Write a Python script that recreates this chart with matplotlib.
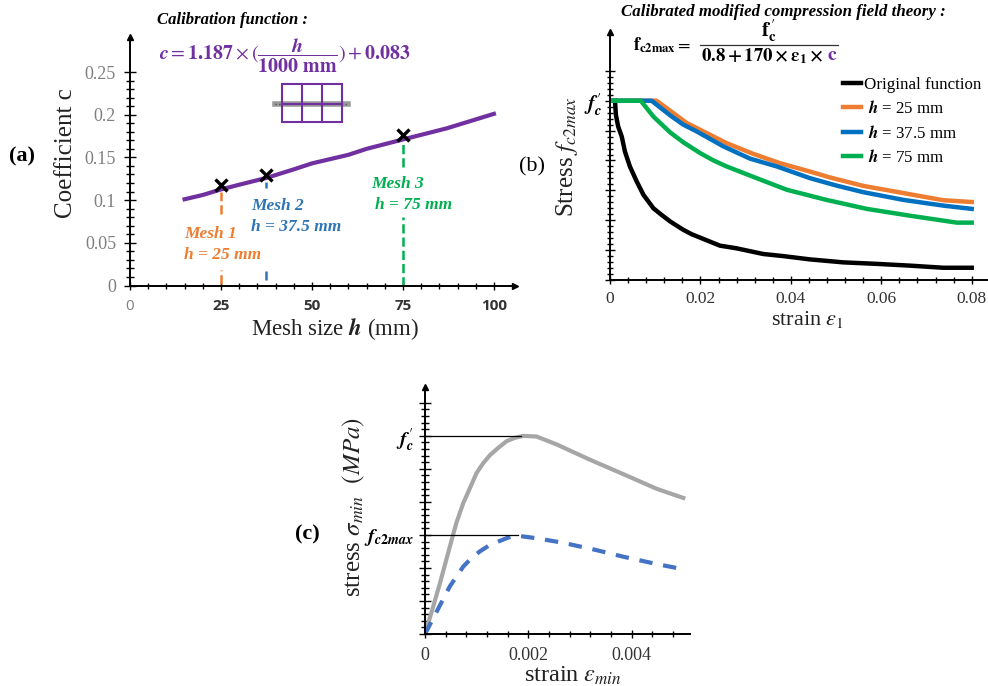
import matplotlib
matplotlib.use('Agg')
import matplotlib.pyplot as plt
from matplotlib.patches import Rectangle
from matplotlib.transforms import ScaledTranslation

plt.rcParams['font.family'] = ['Liberation Serif', 'DejaVu Serif']
plt.rcParams['mathtext.fontset'] = 'stix'

ORANGE = '#ED7D31'
BLUE = '#2E75B6'
GREEN = '#00B050'
PURPLE = '#7030A0'

# (a) calibration
h_line = [15, 20, 25, 30, 37.5, 45, 50, 60, 65, 75, 87, 100]
c_line = [0.101, 0.106, 0.1125, 0.118, 0.126, 0.136, 0.143, 0.153, 0.160, 0.171, 0.184, 0.201]
h_mesh = [25, 37.5, 75]
c_mesh = [0.118, 0.129, 0.176]
mesh_colors = [ORANGE, BLUE, GREEN]
mesh_dash_low = [(0.002, 0.018), (0.006, 0.017), (0.0, 0.08)]
mesh_dash_high = [(0.084, 0.11), (0.114, 0.121), (0.139, 0.168)]

# (b) stress vs strain, y in tick units (f'c = 6)
x_black = [0.0011, 0.0013, 0.0018, 0.0026, 0.0033, 0.0044, 0.0059, 0.0074, 0.0096, 0.0114, 0.0133, 0.0162,
           0.0181, 0.0199, 0.0243, 0.0280, 0.0339, 0.0383, 0.0442, 0.0516, 0.0590, 0.0664, 0.0737, 0.08]
y_black = [6.0, 5.53, 5.14, 4.80, 4.30, 3.80, 3.30, 2.85, 2.40, 2.18, 1.96, 1.68,
           1.53, 1.42, 1.15, 1.06, 0.87, 0.80, 0.69, 0.59, 0.54, 0.48, 0.41, 0.41]
x_orange = [0, 0.0103, 0.0147, 0.017, 0.0199, 0.0258, 0.0317, 0.0376, 0.0442, 0.0487, 0.056, 0.0656, 0.0737, 0.08]
y_orange = [6, 6, 5.51, 5.25, 5.03, 4.58, 4.22, 3.91, 3.63, 3.43, 3.15, 2.89, 2.67, 2.61]
x_blue = [0, 0.0092, 0.0133, 0.0162, 0.0192, 0.0251, 0.031, 0.0369, 0.0442, 0.0501, 0.056, 0.0649, 0.0737, 0.08]
y_blue = [6, 6, 5.51, 5.2, 4.97, 4.47, 4.06, 3.80, 3.41, 3.16, 2.94, 2.68, 2.49, 2.38]
x_green = [0, 0.0068, 0.0096, 0.0133, 0.0162, 0.0199, 0.0229, 0.0258, 0.0324, 0.0391, 0.0479, 0.0568, 0.0664,
           0.0767, 0.08]
y_green = [6, 6, 5.47, 4.94, 4.61, 4.25, 4.0, 3.80, 3.41, 3.02, 2.68, 2.38, 2.15, 1.92, 1.92]

# (c) stress-strain curves
x_gray = [0, 0.00013, 0.00029, 0.00048, 0.00061, 0.00074, 0.00087, 0.00100, 0.00113, 0.00126, 0.00142, 0.00158,
          0.00174, 0.00190, 0.00216, 0.00255, 0.00319, 0.00384, 0.00448, 0.005]
y_gray = [0, 3.4, 7.7, 13.2, 16.9, 19.8, 22.1, 24.4, 25.9, 27.1, 28.2, 29.2,
          29.7, 30, 29.9, 28.7, 26.4, 24.2, 22, 20.6]
x_dash = [0, 0.00016, 0.00048, 0.00074, 0.0009, 0.00106, 0.00126, 0.00145, 0.00161, 0.00177, 0.00216, 0.00268,
          0.00332, 0.00384, 0.00448, 0.005]
y_dash = [0, 2.4, 7.2, 10.2, 11.5, 12.5, 13.5, 14.1, 14.6, 14.9, 14.5, 13.8, 12.7, 11.7, 10.6, 9.8]

W, H = 988, 686
fig = plt.figure(figsize=(W / 100, H / 100), dpi=100)


def px_axes(left, top, right, bottom):
    ax = fig.add_axes([left / W, 1 - bottom / H, (right - left) / W, (bottom - top) / H])
    ax.patch.set_alpha(0)
    ax.spines['top'].set_visible(False)
    ax.spines['right'].set_visible(False)
    ax.spines['left'].set_linewidth(1.4)
    ax.spines['bottom'].set_linewidth(1.4)
    ax.plot(0, 1, '^k', ms=4, transform=ax.transAxes, clip_on=False)
    return ax


# overlay in pixel coordinates for the annotations
over = fig.add_axes([0, 0, 1, 1], zorder=5)
over.set_xlim(0, W)
over.set_ylim(H, 0)
over.axis('off')


def label(x, y, s, size=12, color='black', ha='left', rotation=0, **kw):
    over.text(x, y, s, fontsize=size, color=color, ha=ha, va='center', rotation=rotation, **kw)


# ---- panel a
ax = px_axes(130, 37, 515, 285.5)
ax.set_xlim(0, 105.8)
ax.set_ylim(0, 0.291)
ax.plot(1, 0, '>k', ms=4, transform=ax.transAxes, clip_on=False)
for i in range(3):
    ax.plot([h_mesh[i]] * 2, mesh_dash_low[i], '--', color=mesh_colors[i], lw=1.8)
    ax.plot([h_mesh[i]] * 2, mesh_dash_high[i], '--', color=mesh_colors[i], lw=1.8)
ax.plot(h_line, c_line, color=PURPLE, lw=3)
ax.plot(h_mesh, c_mesh, 'x', color='black', ms=8, mew=2.4)
ax.set_xticks([0, 25, 50, 75, 100])
ax.set_xticks(range(0, 101, 5), minor=True)
ax.set_yticks([0, 0.05, 0.1, 0.15, 0.2, 0.25])
ax.set_yticklabels(['0', '0.05', '0.1', '0.15', '0.2', '0.25'], color='#7f7f7f', fontsize=13)
ax.tick_params(axis='y', which='major', direction='inout', length=8, width=1, pad=6)
ax.tick_params(axis='y', which='minor', direction='inout', length=6, width=1)
ax.set_yticks([i * 0.01 for i in range(26)], minor=True)
ax.tick_params(axis='x', which='major', direction='inout', length=6, width=1, pad=7)
ax.tick_params(axis='x', which='minor', direction='inout', length=5, width=1)
xlabs = ax.set_xticklabels(['0', '25', '50', '75', '100'], family='Open Sans', fontsize=11,
                           fontweight='bold', color='#333333')
xlabs[0].set_color('#7f7f7f')
xlabs[0].set_fontweight('normal')

label(22, 156, '(a)', 16, ha='center', fontweight='bold')
label(66, 153, 'Coefficient c', 18, ha='center', rotation=90, color='#222222')
label(335, 329, r'Mesh size $\boldsymbol{h}$ (mm)', 16.5, ha='center', color='#222222')
label(157, 20, 'Calibration function :', 12, fontweight='bold', fontstyle='italic')
label(285, 56, r'$\boldsymbol{c}=\mathbf{1.187}\times(\dfrac{\boldsymbol{h}}{\mathbf{1000\ mm}})+\mathbf{0.083}$',
      14.4, color=PURPLE, ha='center')

bold_it = dict(fontweight='bold', fontstyle='italic')
label(184, 234, 'Mesh 1', 12.5, ORANGE, **bold_it)
label(184, 255, 'h = 25 mm', 12.5, ORANGE, **bold_it)
label(251, 206, 'Mesh 2', 12.5, BLUE, **bold_it)
label(251, 227, 'h = 37.5 mm', 12.5, BLUE, **bold_it)
label(371, 184, 'Mesh 3', 12.5, GREEN, **bold_it)
label(375, 205, 'h = 75 mm', 12.5, GREEN, **bold_it)

# mesh sketch with rebar
over.plot([275, 348], [103.5, 103.5], color='#9a9a9a', lw=4, zorder=1)
over.plot([275, 348], [103.5, 103.5], color='#555555', lw=1, ls=':', zorder=2)
over.add_patch(Rectangle((282, 84), 60, 38, fill=False, ec=PURPLE, lw=1.5, zorder=3))
over.plot([302, 302], [84, 122], color=PURPLE, lw=1.5, zorder=3)
over.plot([322, 322], [84, 122], color=PURPLE, lw=1.5, zorder=3)
over.plot([282, 342], [103.5, 103.5], color=PURPLE, lw=1.5, zorder=3)

# ---- panel b
ax = px_axes(610, 32, 988, 280)
ax.set_xlim(0, 0.0836)
ax.set_ylim(0, 8.3)
ax.plot(x_black, y_black, color='black', lw=3.2, label='Original function')
ax.plot(x_orange, y_orange, color=ORANGE, lw=3.2, label=r'$\ \boldsymbol{h}$ = 25 mm')
ax.plot(x_blue, y_blue, color='#0070C0', lw=3.2, label=r'$\ \boldsymbol{h}$ = 37.5 mm')
ax.plot(x_green, y_green, color=GREEN, lw=3.2, label=r'$\ \boldsymbol{h}$ = 75 mm')
ax.set_xticks([0, 0.02, 0.04, 0.06, 0.08])
ax.set_xticklabels(['0', '0.02', '0.04', '0.06', '0.08'], fontsize=12.5, color='#333333')
ax.set_xticks([i * 0.004 for i in range(21)], minor=True)
ax.set_yticks(range(8))
ax.set_yticklabels(['', '', '', '', '', '', r"$\boldsymbol{f}^{\,\prime}_{\boldsymbol{c}}$", ''], fontsize=15)
ax.set_yticks([i * 0.2 for i in range(36)], minor=True)
ax.tick_params(axis='y', which='major', direction='inout', length=7, width=1, pad=2)
ax.tick_params(axis='y', which='minor', direction='inout', length=5, width=1)
ax.tick_params(axis='x', which='major', direction='inout', length=6, width=1, pad=5)
ax.tick_params(axis='x', which='minor', direction='inout', length=5, width=1)
ax.legend(loc='upper left', bbox_to_anchor=(0.616, 0.818), frameon=False, fontsize=12.2,
          handlelength=1.1, handletextpad=0.15, labelspacing=0.43, borderpad=0, borderaxespad=0)

label(532, 167, '(b)', 16, ha='center')
label(567, 157, r'Stress $f_{c2max}$', 18, ha='center', rotation=90, color='#222222')
label(807, 320, r'strain $\varepsilon_1$', 16, ha='center', color='#222222')
label(621, 12, 'Calibrated modified compression field theory :', 12.2, fontweight='bold', fontstyle='italic')
label(633, 45, r'$\mathbf{f_{c2max}}=$', 13)
label(769, 31, r"$\mathbf{f}^{\,\prime}_{\mathbf{c}}$", 15, ha='center')
over.plot([700, 838], [44.5, 44.5], color='#333333', lw=0.9)
label(701, 56, r'$\mathbf{0.8+170\times\epsilon_1\times}$', 13.5)
label(832, 56, r'$\mathbf{c}$', 14, PURPLE, ha='center')

# ---- panel c
ax = px_axes(425, 387, 690, 634)
ax.set_xlim(0, 0.00513)
ax.set_ylim(0, 37.4)
ax.plot(x_gray, y_gray, color='#A6A6A6', lw=3)
ax.plot(x_dash, y_dash, '--', color='#4472C4', lw=3, dashes=(3.2, 2.6))
ax.plot([0, 0.00185], [30, 30], color='black', lw=0.9)
ax.plot([0, 0.0018], [15, 15], color='black', lw=0.9)
ax.set_xticks([0, 0.002, 0.004])
ax.set_xticklabels(['0', '0.002', '0.004'], fontsize=13, color='#333333')
ax.set_xticks([i * 0.0004 for i in range(13)], minor=True)
ax.set_yticks([0, 5, 10, 15, 20, 25, 30, 35])
ax.set_yticklabels(['', '', '', r'$\boldsymbol{f}_{\boldsymbol{c2max}}$', '', '', r"$\boldsymbol{f}^{\,\prime}_{\boldsymbol{c}}$", ''],
                   fontsize=14.5)
# these two labels sit slightly under their tick in the original
for t in ax.get_yticklabels():
    t.set_transform(t.get_transform() + ScaledTranslation(0, -3 / 72, fig.dpi_scale_trans))
ax.set_yticks(range(36), minor=True)
ax.tick_params(axis='y', which='major', direction='inout', length=8, width=1, pad=4)
ax.tick_params(axis='y', which='minor', direction='inout', length=6, width=1)
ax.tick_params(axis='x', which='major', direction='inout', length=6, width=1, pad=6)
ax.tick_params(axis='x', which='minor', direction='inout', length=5, width=1)

label(307, 534, '(c)', 16, ha='center', fontweight='bold')
label(354, 507, r'stress $\sigma_{min}$ $\ (MPa)$', 18, ha='center', rotation=90, color='#222222')
label(573, 676, r'strain $\varepsilon_{min}$', 17.5, ha='center', color='#222222')

fig.savefig('out.png', dpi=100)
